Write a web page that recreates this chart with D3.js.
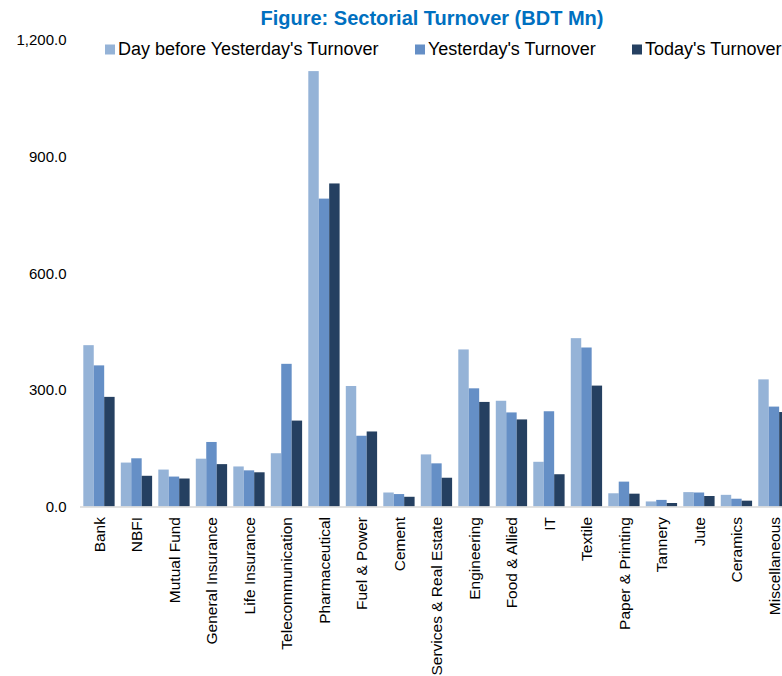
<!DOCTYPE html>
<html>
<head>
<meta charset="utf-8">
<script src="https://cdn.jsdelivr.net/npm/d3@7/dist/d3.min.js"></script>
<style>
  body { margin: 0; background: #fff; }
  svg { display: block; font-family: "Liberation Sans", Arial, sans-serif; }
</style>
</head>
<body>
<div id="chart"></div>
<script>
// sectors and turnover (BDT Mn)
var sectors = ["Bank", "NBFI", "Mutual Fund", "General Insurance", "Life Insurance",
  "Telecommunication", "Pharmaceutical", "Fuel & Power", "Cement", "Services & Real Estate",
  "Engineering", "Food & Allied", "IT", "Textile", "Paper & Printing", "Tannery", "Jute",
  "Ceramics", "Miscellaneous"];

var dayBefore = [415, 113, 95, 123, 103, 137, 1120, 310, 36, 134, 404, 272, 115, 433, 34, 13, 37, 30, 327];
var yesterday = [363, 124, 77, 166, 93, 367, 792, 182, 32, 111, 304, 242, 245, 409, 64, 17, 36, 20, 257];
var today = [282, 79, 72, 109, 88, 221, 831, 193, 25, 74, 269, 224, 83, 311, 33, 9, 27, 15, 243];

var seriesNames = ["Day before Yesterday's Turnover", "Yesterday's Turnover", "Today's Turnover"];
var colors = ["#95B3D7", "#658FC6", "#254061"];
var yTicks = [0, 300, 600, 900, 1200];

var width = 782, height = 676;

var svg = d3.select("#chart").append("svg")
    .attr("width", width)
    .attr("height", height);

var x = d3.scaleBand()
    .domain(sectors)
    .range([80.2, 792.7])
    .paddingInner(0.165)
    .paddingOuter(0.083);

var xInner = d3.scaleBand()
    .domain(d3.range(3))
    .range([0, x.bandwidth()]);

var y = d3.scaleLinear()
    .domain([0, 1200])
    .range([506.5, 40]);

var allSeries = [dayBefore, yesterday, today];

// bars
allSeries.forEach(function(vals, s) {
  svg.append("g")
    .selectAll("rect")
    .data(vals)
    .enter().append("rect")
    .attr("x", function(d, i) { return x(sectors[i]) + xInner(s); })
    .attr("y", function(d) { return y(d); })
    .attr("width", xInner.bandwidth())
    .attr("height", function(d) { return y(0) - y(d); })
    .style("fill", colors[s]);
});

// baseline
svg.append("line")
  .attr("x1", 80).attr("x2", width)
  .attr("y1", y(0) + 0.5).attr("y2", y(0) + 0.5)
  .style("stroke", "#d9d9d9")
  .style("stroke-width", 1.5);

// y tick labels
var fmt = d3.format(",.1f");
svg.append("g")
  .selectAll("text")
  .data(yTicks)
  .enter().append("text")
  .attr("x", 66.5)
  .attr("y", function(d) { return y(d); })
  .attr("dy", "0.35em")
  .attr("text-anchor", "end")
  .style("font-size", "15px")
  .style("fill", "#000")
  .text(function(d) { return fmt(d); });

// category labels
svg.append("g")
  .selectAll("text")
  .data(sectors)
  .enter().append("text")
  .attr("transform", function(d) {
    return "translate(" + (x(d) + x.bandwidth() / 2 + 6) + "," + 517 + ") rotate(-90)";
  })
  .attr("text-anchor", "end")
  .style("font-size", "15.5px")
  .style("fill", "#000")
  .text(function(d) { return d; });

// title
svg.append("text")
  .attr("x", 432)
  .attr("y", 25)
  .attr("text-anchor", "middle")
  .style("font-size", "20px")
  .style("font-weight", "bold")
  .style("fill", "#0070C0")
  .text("Figure: Sectorial Turnover (BDT Mn)");

// legend
var legendX = [105, 415, 632];
var legend = svg.append("g")
  .selectAll("g")
  .data(seriesNames)
  .enter().append("g")
  .attr("transform", function(d, i) { return "translate(" + legendX[i] + ",44.5)"; });

legend.append("rect")
  .attr("width", 10)
  .attr("height", 10)
  .style("fill", function(d, i) { return colors[i]; });

legend.append("text")
  .attr("x", 13)
  .attr("y", 10.5)
  .style("font-size", "18px")
  .style("fill", "#000")
  .text(function(d) { return d; });
</script>
</body>
</html>
